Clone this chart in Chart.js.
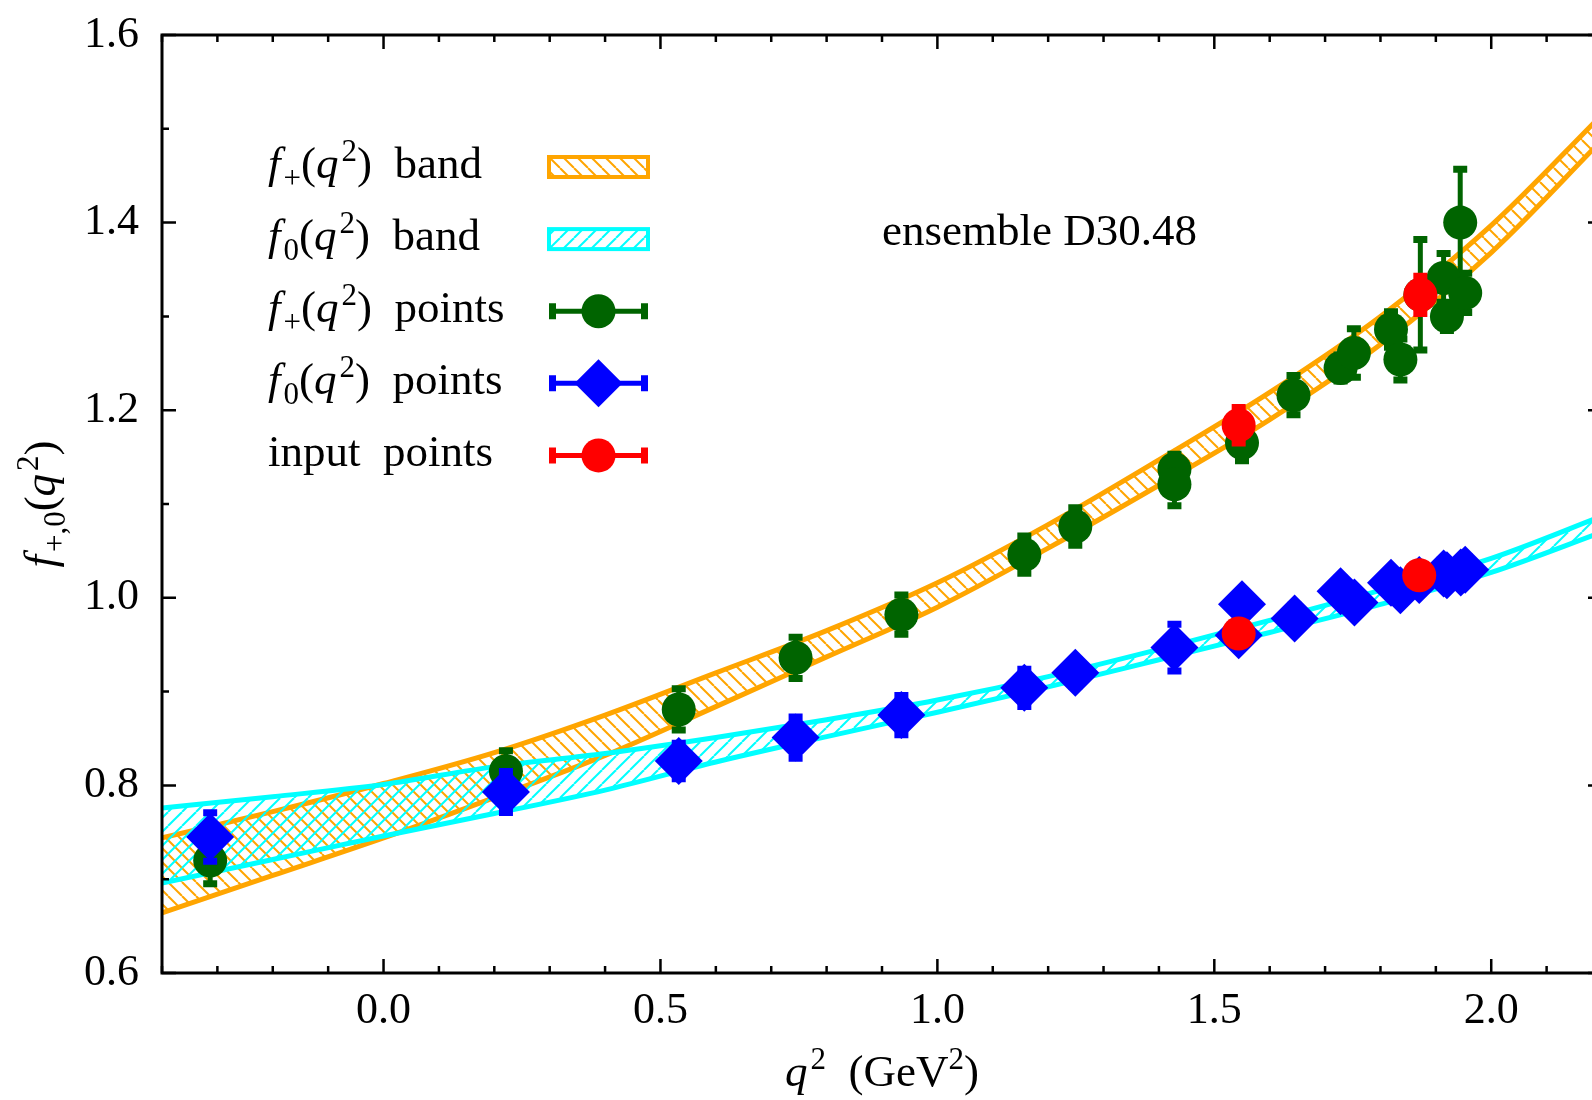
<!DOCTYPE html>
<html><head><meta charset="utf-8">
<script src="https://cdn.jsdelivr.net/npm/chart.js@4/dist/chart.umd.min.js"></script>
<style>
html,body{margin:0;padding:0;background:#fff;overflow:hidden;}
#wrap{width:1592px;height:1100px;overflow:hidden;position:relative;background:#fff;}
canvas{display:block;}
</style></head><body>
<div id="wrap"><canvas id="c" width="1626" height="1100"></canvas></div>
<script>
// ---------------- data ----------------
const bandX   = [-0.4, -0.2, 0.0, 0.2, 0.4, 0.6, 0.8, 1.0, 1.2, 1.4, 1.6, 1.8, 2.0, 2.2];
const fPlusHi = [0.744, 0.772, 0.802, 0.835, 0.875, 0.920, 0.965, 1.016, 1.078, 1.147, 1.219, 1.300, 1.397, 1.515];
const fPlusLo = [0.664, 0.704, 0.744, 0.787, 0.832, 0.884, 0.937, 0.990, 1.053, 1.120, 1.190, 1.270, 1.368, 1.488];
const fZeroHi = [0.776, 0.788, 0.801, 0.820, 0.834, 0.851, 0.870, 0.891, 0.916, 0.945, 0.976, 1.008, 1.042, 1.087];
const fZeroLo = [0.696, 0.721, 0.746, 0.770, 0.795, 0.825, 0.852, 0.878, 0.905, 0.934, 0.963, 0.993, 1.027, 1.070];

const fPlusX   = [-0.313, 0.221, 0.533, 0.744, 0.935, 1.157, 1.249, 1.428, 1.428, 1.550, 1.643, 1.728, 1.752, 1.819, 1.836, 1.872, 1.914, 1.920, 1.944, 1.953];
const fPlusY   = [0.720, 0.815, 0.881, 0.936, 0.982, 1.046, 1.076, 1.137, 1.121, 1.165, 1.216, 1.245, 1.261, 1.286, 1.254, 1.323, 1.341, 1.300, 1.400, 1.325];
const fPlusErr = [0.026, 0.023, 0.023, 0.023, 0.022, 0.021, 0.021, 0.017, 0.024, 0.020, 0.022, 0.015, 0.027, 0.020, 0.023, 0.060, 0.027, 0.016, 0.058, 0.022];

const fZeroX   = [-0.313, 0.221, 0.533, 0.744, 0.935, 1.157, 1.249, 1.428, 1.550, 1.544, 1.645, 1.728, 1.753, 1.819, 1.836, 1.870, 1.914, 1.920, 1.945, 1.953];
const fZeroY   = [0.745, 0.793, 0.826, 0.851, 0.875, 0.904, 0.920, 0.947, 0.993, 0.960, 0.978, 1.007, 0.995, 1.016, 1.008, 1.019, 1.026, 1.024, 1.027, 1.030];
const fZeroErr = [0.027, 0.023, 0.020, 0.023, 0.022, 0.021, 0.015, 0.026, 0.015, 0.012, 0.015, 0.015, 0.015, 0.015, 0.015, 0.015, 0.015, 0.015, 0.015, 0.015];

const inputX   = [1.544, 1.872, 1.544, 1.870];
const inputY   = [1.184, 1.323, 0.962, 1.024];
const inputErr = [0.020, 0.021, 0.010, 0.010];

const xMajorTicks = [0.0, 0.5, 1.0, 1.5, 2.0];
const xTickLabels = ['0.0', '0.5', '1.0', '1.5', '2.0'];
const yMajorTicks = [0.6, 0.8, 1.0, 1.2, 1.4, 1.6];
const yTickLabels = ['0.6', '0.8', '1.0', '1.2', '1.4', '1.6'];

const annotationText = 'ensemble D30.48';
const legendLabels = [
  [{t:'f', it:true}, {t:'+', sub:true}, {t:'('}, {t:'q', it:true}, {t:'2', sup:true}, {t:')  band'}],
  [{t:'f', it:true}, {t:'0', sub:true}, {t:'('}, {t:'q', it:true}, {t:'2', sup:true}, {t:')  band'}],
  [{t:'f', it:true}, {t:'+', sub:true}, {t:'('}, {t:'q', it:true}, {t:'2', sup:true}, {t:')  points'}],
  [{t:'f', it:true}, {t:'0', sub:true}, {t:'('}, {t:'q', it:true}, {t:'2', sup:true}, {t:')  points'}],
  [{t:'input  points'}]
];
const xTitle = [{t:'q', it:true}, {t:'2', sup:true}, {t:'  (GeV'}, {t:'2', sup:true}, {t:')'}];
const yTitle = [{t:'f', it:true}, {t:'+,0', sub:true}, {t:'('}, {t:'q', it:true}, {t:'2', sup:true}, {t:')'}];

// ---------------- style ----------------
const FONT = '"Liberation Serif", "Times New Roman", serif';
const ORANGE = '#FFA500', CYAN = '#00FFFF', GREEN = '#006400', BLUE = '#0000FF', RED = '#FF0000';

function hatch(color, back) {
  const s = 14;
  const c = document.createElement('canvas');
  c.width = s; c.height = s;
  const g = c.getContext('2d');
  g.strokeStyle = color; g.lineWidth = 2;
  for (let k = -1; k <= 1; k++) {
    g.beginPath();
    if (back) { g.moveTo(k*s, 0); g.lineTo(k*s + s, s); }
    else { g.moveTo(k*s, s); g.lineTo(k*s + s, 0); }
    g.stroke();
  }
  return g.createPattern(c, 'repeat');
}
const orangeHatch = hatch(ORANGE, true);
const cyanHatch = hatch(CYAN, false);

const pts = (xs, ys) => xs.map((x, i) => ({x: x, y: ys[i]}));

function rich(ctx, segs, x, y, size, align) {
  const fontOf = s => (s.it ? 'italic ' : '') + ((s.sub || s.sup) ? Math.round(size*0.7) : size) + 'px ' + FONT;
  ctx.textAlign = 'left'; ctx.textBaseline = 'alphabetic';
  let w = 0;
  segs.forEach(s => { ctx.font = fontOf(s); w += ctx.measureText(s.t).width + (s.it ? 3 : 0); });
  let cx = align === 'center' ? x - w/2 : x;
  segs.forEach(s => {
    ctx.font = fontOf(s);
    const dy = s.sub ? size*0.22 : (s.sup ? -size*0.38 : 0);
    ctx.fillText(s.t, cx, y + dy);
    cx += ctx.measureText(s.t).width + (s.it ? 3 : 0);
  });
}

function marker(ctx, style, color, x, y, r) {
  ctx.fillStyle = color;
  ctx.beginPath();
  if (style === 'rectRot') {
    ctx.moveTo(x, y - r); ctx.lineTo(x + r, y); ctx.lineTo(x, y + r); ctx.lineTo(x - r, y); ctx.closePath();
  } else {
    ctx.arc(x, y, r, 0, Math.PI*2);
  }
  ctx.fill();
}

const decor = {
  id: 'decor',
  beforeDatasetDraw(chart, args) {
    const ds = chart.data.datasets[args.index];
    if (!ds.errors) return;
    const {ctx, chartArea: a, scales: {x, y}} = chart;
    ctx.save();
    ctx.beginPath(); ctx.rect(a.left, a.top, a.right - a.left, a.bottom - a.top); ctx.clip();
    ctx.strokeStyle = ds.pointBackgroundColor;
    ds.data.forEach((p, i) => {
      const e = ds.errors[i];
      const px = x.getPixelForValue(p.x);
      const y1 = y.getPixelForValue(p.y + e), y2 = y.getPixelForValue(p.y - e);
      ctx.lineWidth = 5;
      ctx.beginPath(); ctx.moveTo(px, y1); ctx.lineTo(px, y2); ctx.stroke();
      ctx.lineWidth = 7;
      ctx.beginPath();
      ctx.moveTo(px - 7, y1 + 1); ctx.lineTo(px + 7, y1 + 1);
      ctx.moveTo(px - 7, y2 - 1); ctx.lineTo(px + 7, y2 - 1);
      ctx.stroke();
    });
    ctx.restore();
  },
  afterDatasetsDraw(chart) {
    const {ctx, chartArea: a, scales: {x, y}} = chart;
    ctx.save();
    ctx.strokeStyle = '#000';
    ctx.lineWidth = 2.5;
    ctx.beginPath();
    for (let i = -4; i <= 22; i++) {
      const px = x.getPixelForValue(i/10);
      const L = (i % 5 === 0) ? 14 : 7;
      ctx.moveTo(px, a.bottom); ctx.lineTo(px, a.bottom - L);
      ctx.moveTo(px, a.top); ctx.lineTo(px, a.top + L);
    }
    for (let i = 6; i <= 16; i++) {
      const py = y.getPixelForValue(i/10);
      const L = (i % 2 === 0) ? 14 : 7;
      ctx.moveTo(a.left, py); ctx.lineTo(a.left + L, py);
      ctx.moveTo(a.right, py); ctx.lineTo(a.right - L, py);
    }
    ctx.stroke();
    ctx.lineWidth = 3;
    ctx.strokeRect(a.left, a.top, a.right - a.left, a.bottom - a.top);
    ctx.restore();
  },
  afterDraw(chart) {
    const {ctx, chartArea: a, scales: {x, y}} = chart;
    ctx.save();
    ctx.fillStyle = '#000';
    // legend
    const lx = a.left + 106, sx0 = a.left + 387, sx1 = a.left + 486;
    const samples = [
      {band: true, color: ORANGE, pat: orangeHatch},
      {band: true, color: CYAN, pat: cyanHatch},
      {color: GREEN, style: 'circle', r: 17},
      {color: BLUE, style: 'rectRot', r: 24},
      {color: RED, style: 'circle', r: 17}
    ];
    legendLabels.forEach((segs, i) => {
      const base = a.top + 143 + i*72.1;
      ctx.fillStyle = '#000';
      rich(ctx, segs, lx, base, 45, 'left');
      const s = samples[i];
      const cy = base - 11;
      if (s.band) {
        ctx.fillStyle = s.pat;
        ctx.fillRect(sx0, cy - 10, sx1 - sx0, 20);
        ctx.strokeStyle = s.color; ctx.lineWidth = 4;
        ctx.strokeRect(sx0, cy - 10, sx1 - sx0, 20);
      } else {
        ctx.strokeStyle = s.color; ctx.lineWidth = 5;
        ctx.beginPath(); ctx.moveTo(sx0, cy); ctx.lineTo(sx1, cy); ctx.stroke();
        ctx.lineWidth = 7;
        ctx.beginPath();
        ctx.moveTo(sx0 + 3.5, cy - 8); ctx.lineTo(sx0 + 3.5, cy + 8);
        ctx.moveTo(sx1 - 3.5, cy - 8); ctx.lineTo(sx1 - 3.5, cy + 8);
        ctx.stroke();
        marker(ctx, s.style, s.color, (sx0 + sx1)/2, cy, s.r);
      }
    });
    // annotation
    ctx.fillStyle = '#000';
    ctx.font = '45px ' + FONT;
    ctx.textAlign = 'left'; ctx.textBaseline = 'alphabetic';
    ctx.fillText(annotationText, x.getPixelForValue(0.9), y.getPixelForValue(1.376));
    // axis titles
    rich(ctx, xTitle, (a.left + a.right)/2, 1086, 45, 'center');
    ctx.translate(55, (a.top + a.bottom)/2);
    ctx.rotate(-Math.PI/2);
    rich(ctx, yTitle, 0, 0, 45, 'center');
    ctx.restore();
  }
};

const lineBase = {pointRadius: 0, pointHoverRadius: 0, borderWidth: 5, cubicInterpolationMode: 'monotone', showLine: true};
const pointBase = {showLine: false, pointBorderWidth: 0, pointHoverBorderWidth: 0};
const zeroPad = s => { s.paddingTop = 0; s.paddingBottom = 0; s.paddingLeft = 0; s.paddingRight = 0; };

new Chart(document.getElementById('c'), {
  type: 'line',
  data: {
    datasets: [
      Object.assign({label: 'f+ band upper', data: pts(bandX, fPlusHi), borderColor: ORANGE, fill: '+1', backgroundColor: orangeHatch, order: 6}, lineBase),
      Object.assign({label: 'f+ band lower', data: pts(bandX, fPlusLo), borderColor: ORANGE, fill: false, order: 7}, lineBase),
      Object.assign({label: 'f0 band upper', data: pts(bandX, fZeroHi), borderColor: CYAN, fill: '+1', backgroundColor: cyanHatch, order: 4}, lineBase),
      Object.assign({label: 'f0 band lower', data: pts(bandX, fZeroLo), borderColor: CYAN, fill: false, order: 5}, lineBase),
      Object.assign({label: 'f+ points', data: pts(fPlusX, fPlusY), errors: fPlusErr, pointStyle: 'circle', pointRadius: 17, pointHoverRadius: 17, pointBackgroundColor: GREEN, order: 3}, pointBase),
      Object.assign({label: 'f0 points', data: pts(fZeroX, fZeroY), errors: fZeroErr, pointStyle: 'rectRot', pointRadius: 24, pointHoverRadius: 24, pointBackgroundColor: BLUE, order: 2}, pointBase),
      Object.assign({label: 'input points', data: pts(inputX, inputY), errors: inputErr, pointStyle: 'circle', pointRadius: 17, pointHoverRadius: 17, pointBackgroundColor: RED, order: 1}, pointBase)
    ]
  },
  options: {
    responsive: false,
    animation: false,
    events: [],
    layout: {padding: {top: 35, right: 0, left: 0, bottom: 0}},
    plugins: {legend: {display: false}, tooltip: {enabled: false}},
    scales: {
      x: {
        type: 'linear', min: -0.4, max: 2.2,
        grid: {display: false, drawTicks: false},
        border: {display: false},
        afterBuildTicks: s => { s.ticks = xMajorTicks.map(v => ({value: v})); },
        afterFit: s => { s.height = 127; zeroPad(s); },
        ticks: {callback: (v, i) => xTickLabels[i], font: {family: FONT, size: 44}, color: '#000', padding: 12, maxRotation: 0, autoSkip: false}
      },
      y: {
        type: 'linear', min: 0.6, max: 1.6,
        grid: {display: false, drawTicks: false},
        border: {display: false},
        afterBuildTicks: s => { s.ticks = yMajorTicks.map(v => ({value: v})); },
        afterFit: s => { s.width = 162; zeroPad(s); },
        ticks: {callback: (v, i) => yTickLabels[i], font: {family: FONT, size: 44}, color: '#000', padding: 23, autoSkip: false}
      }
    }
  },
  plugins: [decor]
});
</script>
</body></html>
